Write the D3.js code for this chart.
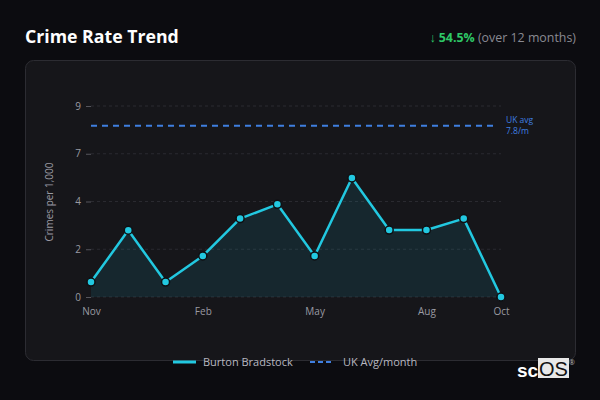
<!DOCTYPE html>
<html><head><meta charset="utf-8">
<script src="https://cdn.jsdelivr.net/npm/d3@7/dist/d3.min.js"></script>
<style>
html,body{margin:0;padding:0;background:#0c0c10;}
svg{display:block;font-family:"Open Sans","Noto Sans",sans-serif;}
</style></head>
<body>
<svg id="c" width="600" height="400"></svg>
<script>
const months = ["Nov","Dec","Jan","Feb","Mar","Apr","May","Jun","Jul","Aug","Sep","Oct"];
const rates = [0.68,3.04,0.68,1.87,3.57,4.22,1.87,5.42,3.05,3.05,3.57,0];
const ukAvg = 7.8;
const xTickMonths = ["Nov","Feb","May","Aug","Oct"];
const yTickLabels = ["0","2","4","7","9"];
const yMax = 8.7;

const svg = d3.select("#c");
// header
svg.append("text").attr("x",25).attr("y",43).attr("fill","#ffffff")
  .attr("font-size",17.7).attr("font-weight",700).text("Crime Rate Trend");
const hdr = svg.append("text").attr("x",576).attr("y",42).attr("text-anchor","end").attr("font-size",12.4);
hdr.append("tspan").attr("fill","#2ec866").attr("font-weight",700).text("↓ 54.5%");
hdr.append("tspan").attr("fill","#8a8a92").text(" (over 12 months)");

// panel
svg.append("rect").attr("x",25.5).attr("y",60.5).attr("width",550).attr("height",300)
  .attr("rx",8).attr("fill","#16161a").attr("stroke","#2c2c32");

const x = d3.scalePoint().domain(months).range([91,501]);
const y = d3.scaleLinear().domain([0,yMax]).range([297,106]);
const yTicks = d3.range(5).map(i=>i*yMax/4);

// grid
svg.append("g").selectAll("line").data(yTicks).join("line")
  .attr("x1",91).attr("x2",501).attr("y1",d=>y(d)).attr("y2",d=>y(d))
  .attr("stroke","#2a2a30").attr("stroke-dasharray","3,3");

// axes
const yAxis = d3.axisLeft(y).tickValues(yTicks).tickSize(5).tickPadding(5)
  .tickFormat((d,i)=>yTickLabels[i]);
const gy = svg.append("g").attr("transform","translate(91,0)").call(yAxis);
gy.select(".domain").remove();
gy.selectAll("line").attr("stroke","#55555c");
gy.selectAll("text").attr("fill","#9a9aa2").attr("font-size",10).attr("font-family","Open Sans, Noto Sans, sans-serif");

const xAxis = d3.axisBottom(x).tickValues(xTickMonths).tickSize(0).tickPadding(11);
const gx = svg.append("g").attr("transform","translate(0,297)").call(xAxis);
gx.select(".domain").remove();
gx.selectAll("text").attr("fill","#9a9aa2").attr("font-size",10).attr("font-family","Open Sans, Noto Sans, sans-serif");

svg.append("text").attr("transform","translate(53,202) rotate(-90)").attr("text-anchor","middle")
  .attr("fill","#9a9aa2").attr("font-size",10).text("Crimes per 1,000");

// area
const area = d3.area().x((d,i)=>x(months[i])).y0(y(0)).y1(d=>y(d));
svg.append("path").datum(rates).attr("d",area).attr("fill","#22c8e0").attr("fill-opacity",0.1);

// UK avg
svg.append("line").attr("x1",91).attr("x2",497).attr("y1",y(ukAvg)).attr("y2",y(ukAvg))
  .attr("stroke","#3f7fe0").attr("stroke-width",2).attr("stroke-dasharray","6,5");
svg.append("text").attr("x",506).attr("y",y(ukAvg)-3).attr("fill","#3f7fe0").attr("font-size",8.5).text("UK avg");
svg.append("text").attr("x",506).attr("y",y(ukAvg)+8).attr("fill","#3f7fe0").attr("font-size",8.5).text(ukAvg+"/m");

// line
const line = d3.line().x((d,i)=>x(months[i])).y(d=>y(d));
svg.append("path").datum(rates).attr("d",line).attr("fill","none")
  .attr("stroke","#22c8e0").attr("stroke-width",2.5).attr("stroke-linejoin","round");
svg.append("g").selectAll("circle").data(rates).join("circle")
  .attr("cx",(d,i)=>x(months[i])).attr("cy",d=>y(d)).attr("r",4)
  .attr("fill","#22c8e0").attr("stroke","#0f0f12").attr("stroke-width",1.5);

// legend
const lg = svg.append("g").attr("transform","translate(0,362)");
lg.append("line").attr("x1",173).attr("x2",196).attr("y1",0).attr("y2",0).attr("stroke","#22c8e0").attr("stroke-width",3);
lg.append("text").attr("x",203).attr("y",4).attr("fill","#b8b8c0").attr("font-size",11).text("Burton Bradstock");
lg.append("line").attr("x1",310).attr("x2",334).attr("y1",0).attr("y2",0).attr("stroke","#3f7fe0").attr("stroke-width",2).attr("stroke-dasharray","5,3");
lg.append("text").attr("x",343).attr("y",4).attr("fill","#b8b8c0").attr("font-size",11).text("UK Avg/month");

// watermark
const wm = svg.append("g");
wm.append("text").attr("x",517).attr("y",377).attr("fill","#ffffff").attr("font-size",19).attr("font-weight",700)
  .attr("font-family","Liberation Sans, Arial, sans-serif").text("sc");
wm.append("rect").attr("x",538).attr("y",358).attr("width",31).attr("height",20).attr("fill","#e8e8e8");
wm.append("text").attr("x",539).attr("y",376).attr("fill","#111").attr("font-size",20)
  .attr("font-family","Liberation Sans, Arial, sans-serif").text("OS");
wm.append("text").attr("x",569).attr("y",365).attr("fill","#bbbbbb").attr("font-size",7).text("®");
</script>
</body></html>
